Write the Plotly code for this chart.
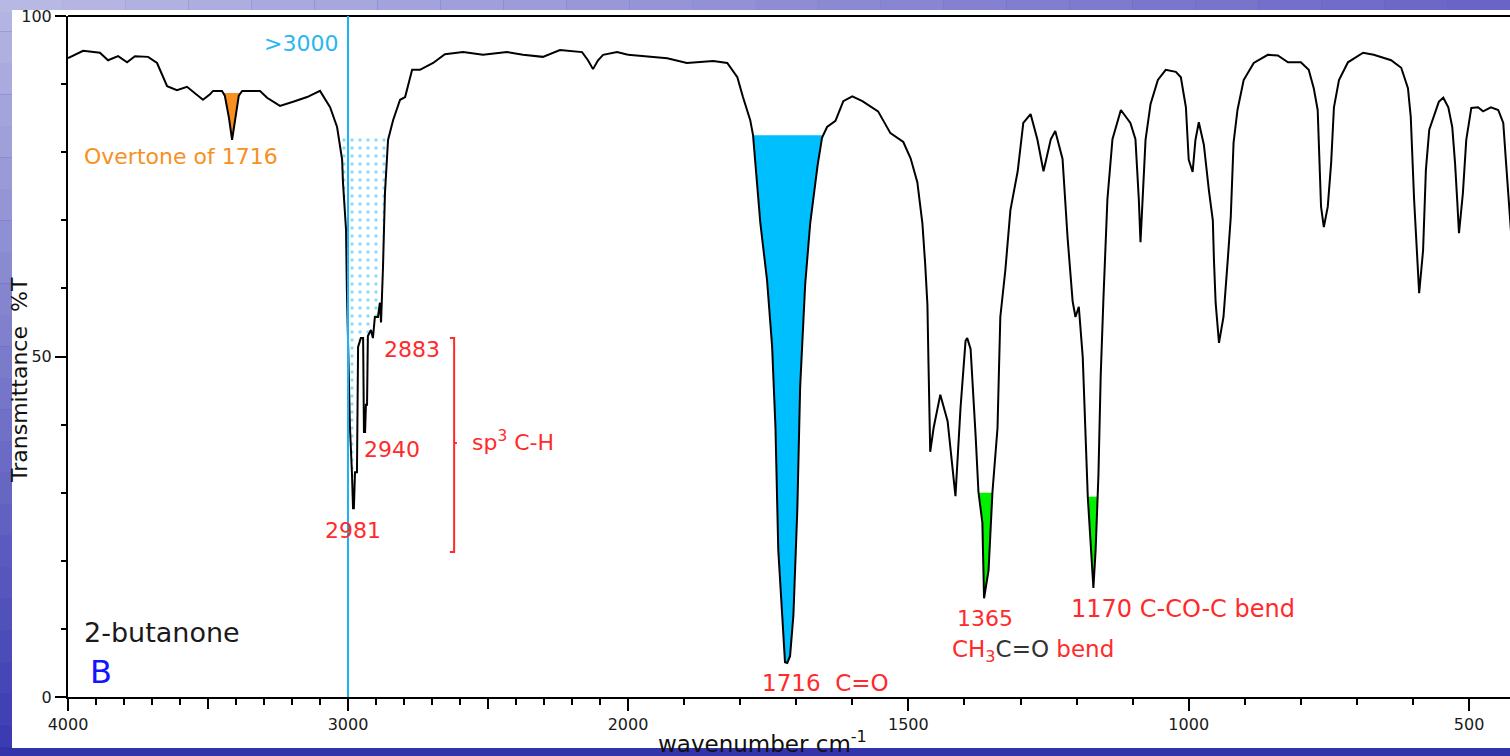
import numpy as np
import plotly.graph_objects as go

# ---- spectrum data: 2-butanone, transmittance (%T) vs wavenumber (cm-1) ----
# 4000-2000 cm-1 (compressed part of the axis)
wn_high = [4000, 3946, 3886, 3857, 3821, 3789, 3761, 3714, 3682, 3646, 3611, 3575,
           3518, 3493, 3482, 3450, 3440, 3425, 3414, 3403, 3390, 3378, 3314, 3289,
           3243, 3196, 3146, 3100, 3064, 3039, 3021, 3018, 3007, 3004, 3000, 2996,
           2993, 2986, 2982, 2979, 2975, 2968, 2964, 2954, 2946, 2943, 2939, 2936,
           2932, 2929, 2918, 2911, 2904, 2893, 2886, 2882, 2879, 2875, 2868, 2857,
           2839, 2814, 2796, 2771, 2743, 2696, 2654, 2589, 2518, 2432, 2375, 2304,
           2243, 2164, 2143, 2125, 2107, 2089, 2039, 2000]
t_high = [93.8, 94.9, 94.6, 93.5, 94.1, 93.2, 94.1, 94.0, 93.1, 89.7, 89.1, 89.6,
          87.7, 88.5, 89.0, 89.0, 88.3, 85.0, 81.8, 85.0, 88.3, 89.0, 89.0, 88.0,
          86.8, 87.4, 88.1, 89.0, 86.6, 83.7, 78.9, 75.6, 68.6, 59.8, 53.4, 46.5,
          39.6, 33.0, 27.7, 27.7, 33.0, 33.0, 51.4, 52.7, 52.7, 38.9, 38.9, 42.9,
          42.9, 53.0, 53.9, 52.7, 55.8, 55.8, 57.9, 55.0, 58.0, 63.1, 74.0, 81.8,
          84.7, 87.7, 88.1, 92.1, 92.1, 93.1, 94.4, 94.7, 94.3, 94.7, 94.3, 94.0,
          95.0, 94.7, 93.5, 92.2, 93.5, 94.3, 94.7, 94.3]

# 2000-400 cm-1 (expanded part of the axis)
wn_low = [2000, 1930, 1895, 1848, 1823, 1805, 1795, 1782, 1777, 1764, 1752, 1743,
          1737, 1732, 1725, 1720, 1716, 1711, 1705, 1698, 1693, 1684, 1675, 1662,
          1654, 1645, 1630, 1616, 1600, 1582, 1554, 1532, 1509, 1496, 1484, 1475,
          1470, 1466, 1464, 1461, 1455, 1443, 1430, 1421, 1416, 1407, 1398, 1395,
          1389, 1380, 1375, 1368, 1365, 1357, 1350, 1341, 1336, 1327, 1318, 1305,
          1295, 1282, 1270, 1259, 1246, 1238, 1225, 1216, 1207, 1202, 1196, 1189,
          1184, 1180, 1170, 1166, 1161, 1157, 1152, 1145, 1136, 1121, 1104, 1095,
          1089, 1086, 1077, 1068, 1055, 1041, 1023, 1014, 1005, 1000, 993, 988,
          982, 973, 964, 957, 955, 952, 946, 938, 930, 925, 920, 913,
          902, 884, 859, 841, 823, 800, 786, 777, 770, 768, 764, 759,
          752, 746, 741, 732, 716, 689, 670, 639, 621, 609, 604, 598,
          591, 589, 582, 577, 571, 563, 554, 546, 537, 530, 525, 521,
          518, 511, 505, 496, 484, 475, 461, 448, 439, 434, 429, 425, 418]
t_low = [94.3, 93.8, 93.1, 93.4, 93.1, 91.0, 88.1, 84.7, 82.5, 69.6, 61.2, 51.5,
         39.6, 21.6, 12.0, 5.1, 5.0, 6.0, 12.0, 27.6, 45.5, 60.6, 69.6, 78.0,
         82.1, 83.7, 84.6, 87.5, 88.2, 87.5, 86.0, 82.8, 81.5, 79.1, 75.6, 69.6,
         63.6, 57.6, 48.6, 36.0, 39.5, 44.4, 40.5, 33.6, 29.5, 42.4, 52.3, 52.7,
         51.1, 38.3, 30.1, 25.6, 14.5, 18.6, 30.1, 39.5, 55.8, 62.7, 71.5, 77.2,
         84.3, 85.6, 81.9, 77.2, 81.9, 83.1, 79.0, 67.4, 58.1, 55.8, 57.3, 49.9,
         38.3, 29.4, 16.0, 21.6, 32.6, 47.1, 58.7, 73.1, 81.9, 86.2, 84.3, 81.9,
         73.1, 66.8, 81.8, 87.1, 90.6, 92.1, 91.8, 91.0, 86.6, 78.9, 77.1, 81.8,
         84.4, 81.1, 74.4, 70.0, 64.2, 57.9, 52.0, 55.8, 64.6, 70.5, 81.4, 86.2,
         90.6, 93.1, 94.3, 94.2, 93.2, 93.2, 92.1, 89.4, 86.2, 81.4, 72.0, 69.0,
         72.0, 78.4, 86.6, 90.6, 93.2, 94.6, 94.3, 93.5, 92.4, 89.4, 85.2, 73.0,
         63.7, 59.3, 65.6, 77.4, 83.3, 85.2, 87.4, 88.0, 86.6, 83.7, 78.4, 72.7,
         68.1, 74.0, 81.8, 86.5, 86.6, 86.0, 86.6, 86.2, 84.3, 78.4, 72.5, 67.5, 60.0]

# axis ticks
ticks_high = [4000, 3000]
ticklabels_high = ["4000", "3000"]
unlabelled_major_high = [3500, 2500]
ticks_low = [2000, 1500, 1000, 500]
ticklabels_low = ["2000", "1500", "1000", "500"]
ticks_y = [0, 50, 100]

# highlighted bands: (band centre, fill level %T)
overtone_band = (3414, 88.7)
ch_stretch_band = (2982, 82.4)
carbonyl_band = (1716, 82.5)
ch3_bend_band = (1365, 30.0)
ccoc_bend_band = (1170, 29.4)

# ---- page geometry (pixels) ----
W, H = 1510, 756
L, R, T, B = 68, 0, 16, 59
PW, PH = W - L - R, H - T - B
SPLIT = 560 / PW          # 4000-2000 gets half the width per cm-1 of 2000-400


def px_x(p):
    return (p - L) / PW


def px_y(p):
    return (H - B - p) / PH


def band(wn, t, centre, level):
    """Polygon between a horizontal level and the spectrum around an absorption."""
    wn = np.asarray(wn, float)
    t = np.asarray(t, float)
    i = int(np.argmin(np.abs(wn - centre)))
    lo = i
    while lo > 0 and t[lo - 1] < level:
        lo -= 1
    hi = i
    while hi < len(t) - 1 and t[hi + 1] < level:
        hi += 1

    def cross(a, b):
        f = (level - t[a]) / (t[b] - t[a])
        return wn[a] + f * (wn[b] - wn[a])

    xl = cross(lo - 1, lo)
    xr = cross(hi, hi + 1)
    xs = [xl] + list(wn[lo:hi + 1]) + [xr, xl]
    ys = [level] + list(t[lo:hi + 1]) + [level, level]
    return xs, ys


fig = go.Figure()

# filled bands (drawn under the spectrum line)
xs, ys = band(wn_high, t_high, *overtone_band)
fig.add_trace(go.Scatter(x=xs, y=ys, xaxis="x", yaxis="y", mode="lines", fill="toself",
                         fillcolor="#f7901e", line=dict(width=0), hoverinfo="skip"))
xs, ys = band(wn_high, t_high, *ch_stretch_band)
fig.add_trace(go.Scatter(x=xs, y=ys, xaxis="x", yaxis="y", mode="lines", fill="toself",
                         fillcolor="rgba(0,0,0,0)",
                         fillpattern=dict(shape=".", fgcolor="#12b6f6", bgcolor="rgba(0,0,0,0)",
                                          size=8, solidity=0.13),
                         line=dict(width=0), hoverinfo="skip"))
xs, ys = band(wn_low, t_low, *carbonyl_band)
fig.add_trace(go.Scatter(x=xs, y=ys, xaxis="x2", yaxis="y", mode="lines", fill="toself",
                         fillcolor="#00bfff", line=dict(width=0), hoverinfo="skip"))
for c in (ch3_bend_band, ccoc_bend_band):
    xs, ys = band(wn_low, t_low, *c)
    fig.add_trace(go.Scatter(x=xs, y=ys, xaxis="x2", yaxis="y", mode="lines", fill="toself",
                             fillcolor="#00f000", line=dict(width=0), hoverinfo="skip"))

# spectrum
fig.add_trace(go.Scatter(x=wn_high, y=t_high, xaxis="x", yaxis="y", mode="lines",
                         line=dict(color="black", width=2), hoverinfo="skip"))
fig.add_trace(go.Scatter(x=wn_low, y=t_low, xaxis="x2", yaxis="y", mode="lines",
                         line=dict(color="black", width=2), hoverinfo="skip"))

# ---- background: blue slide gradient with white panel ----
shapes = []


def mix(c1, c2, f):
    a = [int(c1[i:i + 2], 16) for i in (1, 3, 5)]
    b = [int(c2[i:i + 2], 16) for i in (1, 3, 5)]
    return "#%02x%02x%02x" % tuple(round(a[k] + (b[k] - a[k]) * f) for k in range(3))


n = 24
for k in range(n):  # left edge, light at top to deep blue at bottom
    y0, y1 = H * k / n, H * (k + 1) / n
    shapes.append(dict(type="rect", xref="paper", yref="paper", layer="below",
                       x0=px_x(0), x1=px_x(14), y0=px_y(y1), y1=px_y(y0),
                       fillcolor=mix("#b4b4e2", "#3c3cb2", k / (n - 1)), line=dict(width=0)))
for k in range(n):  # top edge, lavender to purple-blue
    x0, x1 = W * k / n, W * (k + 1) / n
    shapes.append(dict(type="rect", xref="paper", yref="paper", layer="below",
                       x0=px_x(x0), x1=px_x(x1), y0=px_y(12), y1=px_y(0),
                       fillcolor=mix("#b8b8e4", "#6a64c6", k / (n - 1)), line=dict(width=0)))
shapes.append(dict(type="rect", xref="paper", yref="paper", layer="below",
                   x0=px_x(0), x1=px_x(W), y0=px_y(H), y1=px_y(747),
                   fillcolor="#3434aa", line=dict(width=0)))
shapes.append(dict(type="rect", xref="paper", yref="paper", layer="below",
                   x0=px_x(12), x1=px_x(W + 5), y0=px_y(748), y1=px_y(10),
                   fillcolor="white", line=dict(width=0)))

# top frame line
shapes.append(dict(type="line", xref="paper", yref="paper", x0=0, x1=1, y0=1, y1=1,
                   line=dict(color="black", width=2)))
# long unlabelled ticks at 3500 and 2500
for v in unlabelled_major_high:
    shapes.append(dict(type="line", xref="x", yref="paper", x0=v, x1=v,
                       y0=0, y1=-12 / PH, line=dict(color="black", width=2)))
# 3000 cm-1 divider
shapes.append(dict(type="line", xref="x", yref="y", x0=3000, x1=3000, y0=0, y1=100,
                   line=dict(color="#1ab4f2", width=2), layer="above"))
# bracket grouping the sp3 C-H stretches
shapes.append(dict(type="path", xref="x", yref="y",
                   path="M 2636,52.7 L 2621,52.7 L 2621,21.3 L 2636,21.3",
                   line=dict(color="#ff2a2a", width=2)))
shapes.append(dict(type="line", xref="x", yref="y", x0=2621, x1=2611, y0=37.3, y1=37.3,
                   line=dict(color="#ff2a2a", width=2)))

RED = "#ff2a2a"
FONT = "DejaVu Sans"


def label(text, x, y, color=RED, size=22, xref="x", anchor="left"):
    return dict(text=text, x=x, y=y, xref=xref, yref="y", xanchor=anchor, yanchor="middle",
                showarrow=False, font=dict(family=FONT, size=size, color=color))


annotations = [
    label("Overtone of 1716", 3950, 79.3, color="#f7901e", size=22),
    label("&gt;3000", 3307, 96.0, color="#2ab6f0", size=22),
    label("2883", 2879, 51.1),
    label("2940", 2950, 36.4),
    label("2981", 3089, 24.5),
    label("sp<sup>3</sup> C-H", 2564, 37.6),
    label("2-butanone", 3950, 9.4, color="#1a1a1a", size=27),
    label("B", 3929, 3.7, color="#1414ff", size=32),
    label("1716\u00a0\u00a0C=O", 1764, 2.1, xref="x2", size=23),
    label("1365", 1416, 11.5, xref="x2"),
    label("CH<sub>3</sub><span style='color:#333333'>C=O</span> bend", 1425, 6.8, xref="x2",
          size=23),
    label("1170 C-CO-C bend", 1214, 12.9, xref="x2", size=24),
    dict(text="wavenumber cm<sup>-1</sup>", x=px_x(762), y=px_y(742), xref="paper", yref="paper",
         xanchor="center", yanchor="middle", showarrow=False,
         font=dict(family=FONT, size=23, color="#111111")),
    dict(text="Transmittance\u00a0\u00a0%T", x=px_x(20), y=px_y(380), xref="paper", yref="paper",
         xanchor="center", yanchor="middle", showarrow=False, textangle=-90,
         font=dict(family=FONT, size=22, color="#111111")),
]

tickfont = dict(family=FONT, size=16, color="#1a1a1a")
minor_x = dict(tickmode="linear", tick0=0, dtick=100, ticks="outside", ticklen=6,
               tickwidth=2, tickcolor="black")

fig.update_layout(
    width=W, height=H,
    margin=dict(l=L, r=R, t=T, b=B, pad=0),
    paper_bgcolor="#5a5ac2",
    plot_bgcolor="white",
    showlegend=False,
    hovermode=False,
    shapes=shapes,
    annotations=annotations,
    xaxis=dict(domain=[0, SPLIT], range=[4000, 2000], tickmode="array",
               tickvals=ticks_high, ticktext=ticklabels_high, ticks="outside", ticklen=12,
               tickwidth=2, tickcolor="black", showline=True, linecolor="black", linewidth=2,
               showgrid=False, zeroline=False, tickfont=tickfont, anchor="y", minor=minor_x),
    xaxis2=dict(domain=[SPLIT, 1], range=[2000, 427], tickmode="array",
                tickvals=ticks_low, ticktext=ticklabels_low, ticks="outside", ticklen=12,
                tickwidth=2, tickcolor="black", showline=True, linecolor="black", linewidth=2,
                showgrid=False, zeroline=False, tickfont=tickfont, anchor="y", minor=minor_x),
    yaxis=dict(range=[0, 100], tickmode="array", tickvals=ticks_y, ticks="outside",
               ticklen=11, tickwidth=2, tickcolor="black", showline=True, linecolor="black",
               linewidth=2, showgrid=False, zeroline=False, tickfont=tickfont,
               minor=dict(tickmode="linear", tick0=0, dtick=10, ticks="outside", ticklen=5,
                          tickwidth=2, tickcolor="black")),
)

fig.write_html("out.html")
